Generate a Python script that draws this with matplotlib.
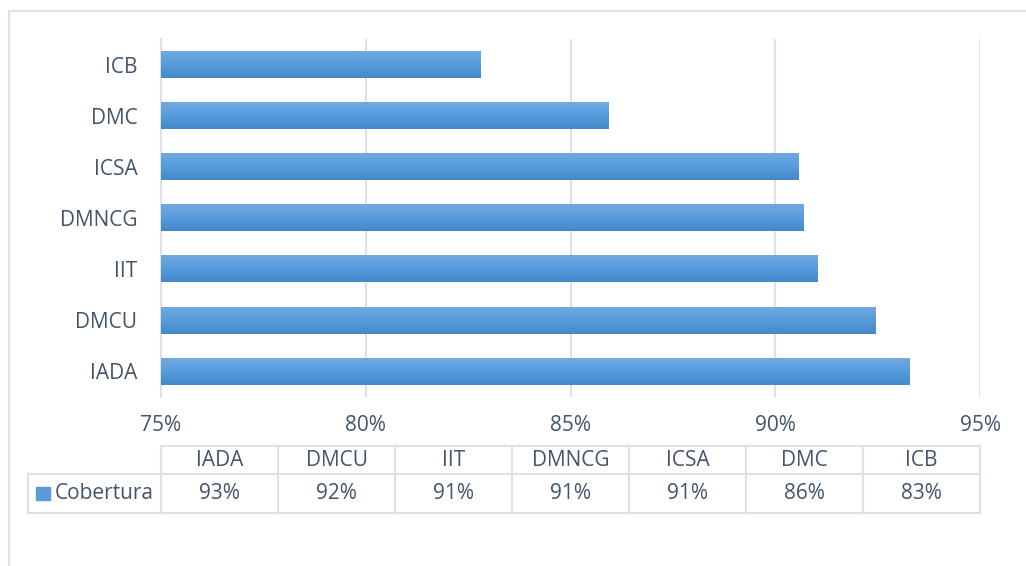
import matplotlib.pyplot as plt
import numpy as np
from matplotlib.colors import LinearSegmentedColormap
from matplotlib.patches import Rectangle

plt.rcParams['font.family'] = ['Open Sans', 'DejaVu Sans']

categories = ["IADA", "DMCU", "IIT", "DMNCG", "ICSA", "DMC", "ICB"]
values = [93.27, 92.46, 91.04, 90.70, 90.56, 85.94, 82.79]
value_labels = ["93%", "92%", "91%", "91%", "91%", "86%", "83%"]
series_name = "Cobertura"
xticks = [75, 80, 85, 90, 95]

text_col = "#44546A"
grid_col = "#DCE1E8"
fs = 15
W, H = 1026, 566

fig = plt.figure(figsize=(W / 100, H / 100), dpi=100)

# outer chart frame
fig.patches.append(Rectangle((9 / W, -0.1), 1.2, 1 - 11 / H + 0.1, transform=fig.transFigure,
                             fill=False, edgecolor=grid_col, lw=1.5))

ax = fig.add_axes([161 / W, 1 - 397 / H, 819 / W, 358 / H])
y = np.arange(len(categories))
bars = ax.barh(y, [v - 75 for v in values], left=75, height=0.52, color="#5B9BD5", zorder=2)

cmap = LinearSegmentedColormap.from_list("g", ["#4488C9", "#569CDD", "#72A9DE"])
grad = np.linspace(0, 1, 64).reshape(-1, 1)
for b in bars:
    x0, y0, w, h = b.get_x(), b.get_y(), b.get_width(), b.get_height()
    ax.imshow(grad, cmap=cmap, aspect="auto", extent=(x0, x0 + w, y0 + h, y0),
              zorder=3, interpolation="bilinear")
    b.set_visible(False)

ax.set_xlim(75, 95)
ax.set_ylim(-0.5, len(categories) - 0.5)
ax.set_yticks(y)
ax.set_yticklabels(categories)
ax.set_xticks(xticks)
ax.set_xticklabels([f"{t}%" for t in xticks])
ax.tick_params(length=0, labelsize=fs, colors=text_col)
ax.tick_params(axis="y", pad=24)
ax.tick_params(axis="x", pad=13)
ax.grid(axis="x", color=grid_col, lw=1.5, zorder=0)
for s in ["top", "right", "bottom"]:
    ax.spines[s].set_visible(False)
ax.spines["left"].set_color(grid_col)
ax.spines["left"].set_linewidth(1.5)
for lbl in ax.get_yticklabels():
    lbl.set_x(-0.0)
ax.tick_params(axis="y", pad=17)

# data table
tx = fig.add_axes([161 / W, 1 - 513 / H, 819 / W, 67 / H])
tx.set_xlim(0, len(categories))
tx.set_ylim(2, 0)
tx.axis("off")
row_h = [0, 28 / 67 * 2, 2]
lab_left = (28 - 161) / 117
kw = dict(color=grid_col, lw=1.5, clip_on=False)
tx.plot([0, len(categories)], [0, 0], **kw)
tx.plot([lab_left, len(categories)], [row_h[1], row_h[1]], **kw)
tx.plot([lab_left, len(categories)], [2, 2], **kw)
tx.plot([lab_left, lab_left], [row_h[1], 2], **kw)
for i in range(len(categories) + 1):
    tx.plot([i, i], [0, 2], **kw)
for i, (c, v) in enumerate(zip(categories, value_labels)):
    tx.text(i + 0.5, row_h[1] / 2, c, ha="center", va="center", fontsize=fs, color=text_col)
    tx.text(i + 0.5, (row_h[1] + 2) / 2, v, ha="center", va="center", fontsize=fs, color=text_col)
tx.add_patch(Rectangle((lab_left + 0.07, (row_h[1] + 2) / 2 - 0.18), 0.12, 0.38,
                       color="#5B9BD5", clip_on=False))
tx.text(lab_left + 0.225, (row_h[1] + 2) / 2, series_name, ha="left", va="center",
        fontsize=fs, color=text_col)

fig.savefig("out.png", dpi=100)
